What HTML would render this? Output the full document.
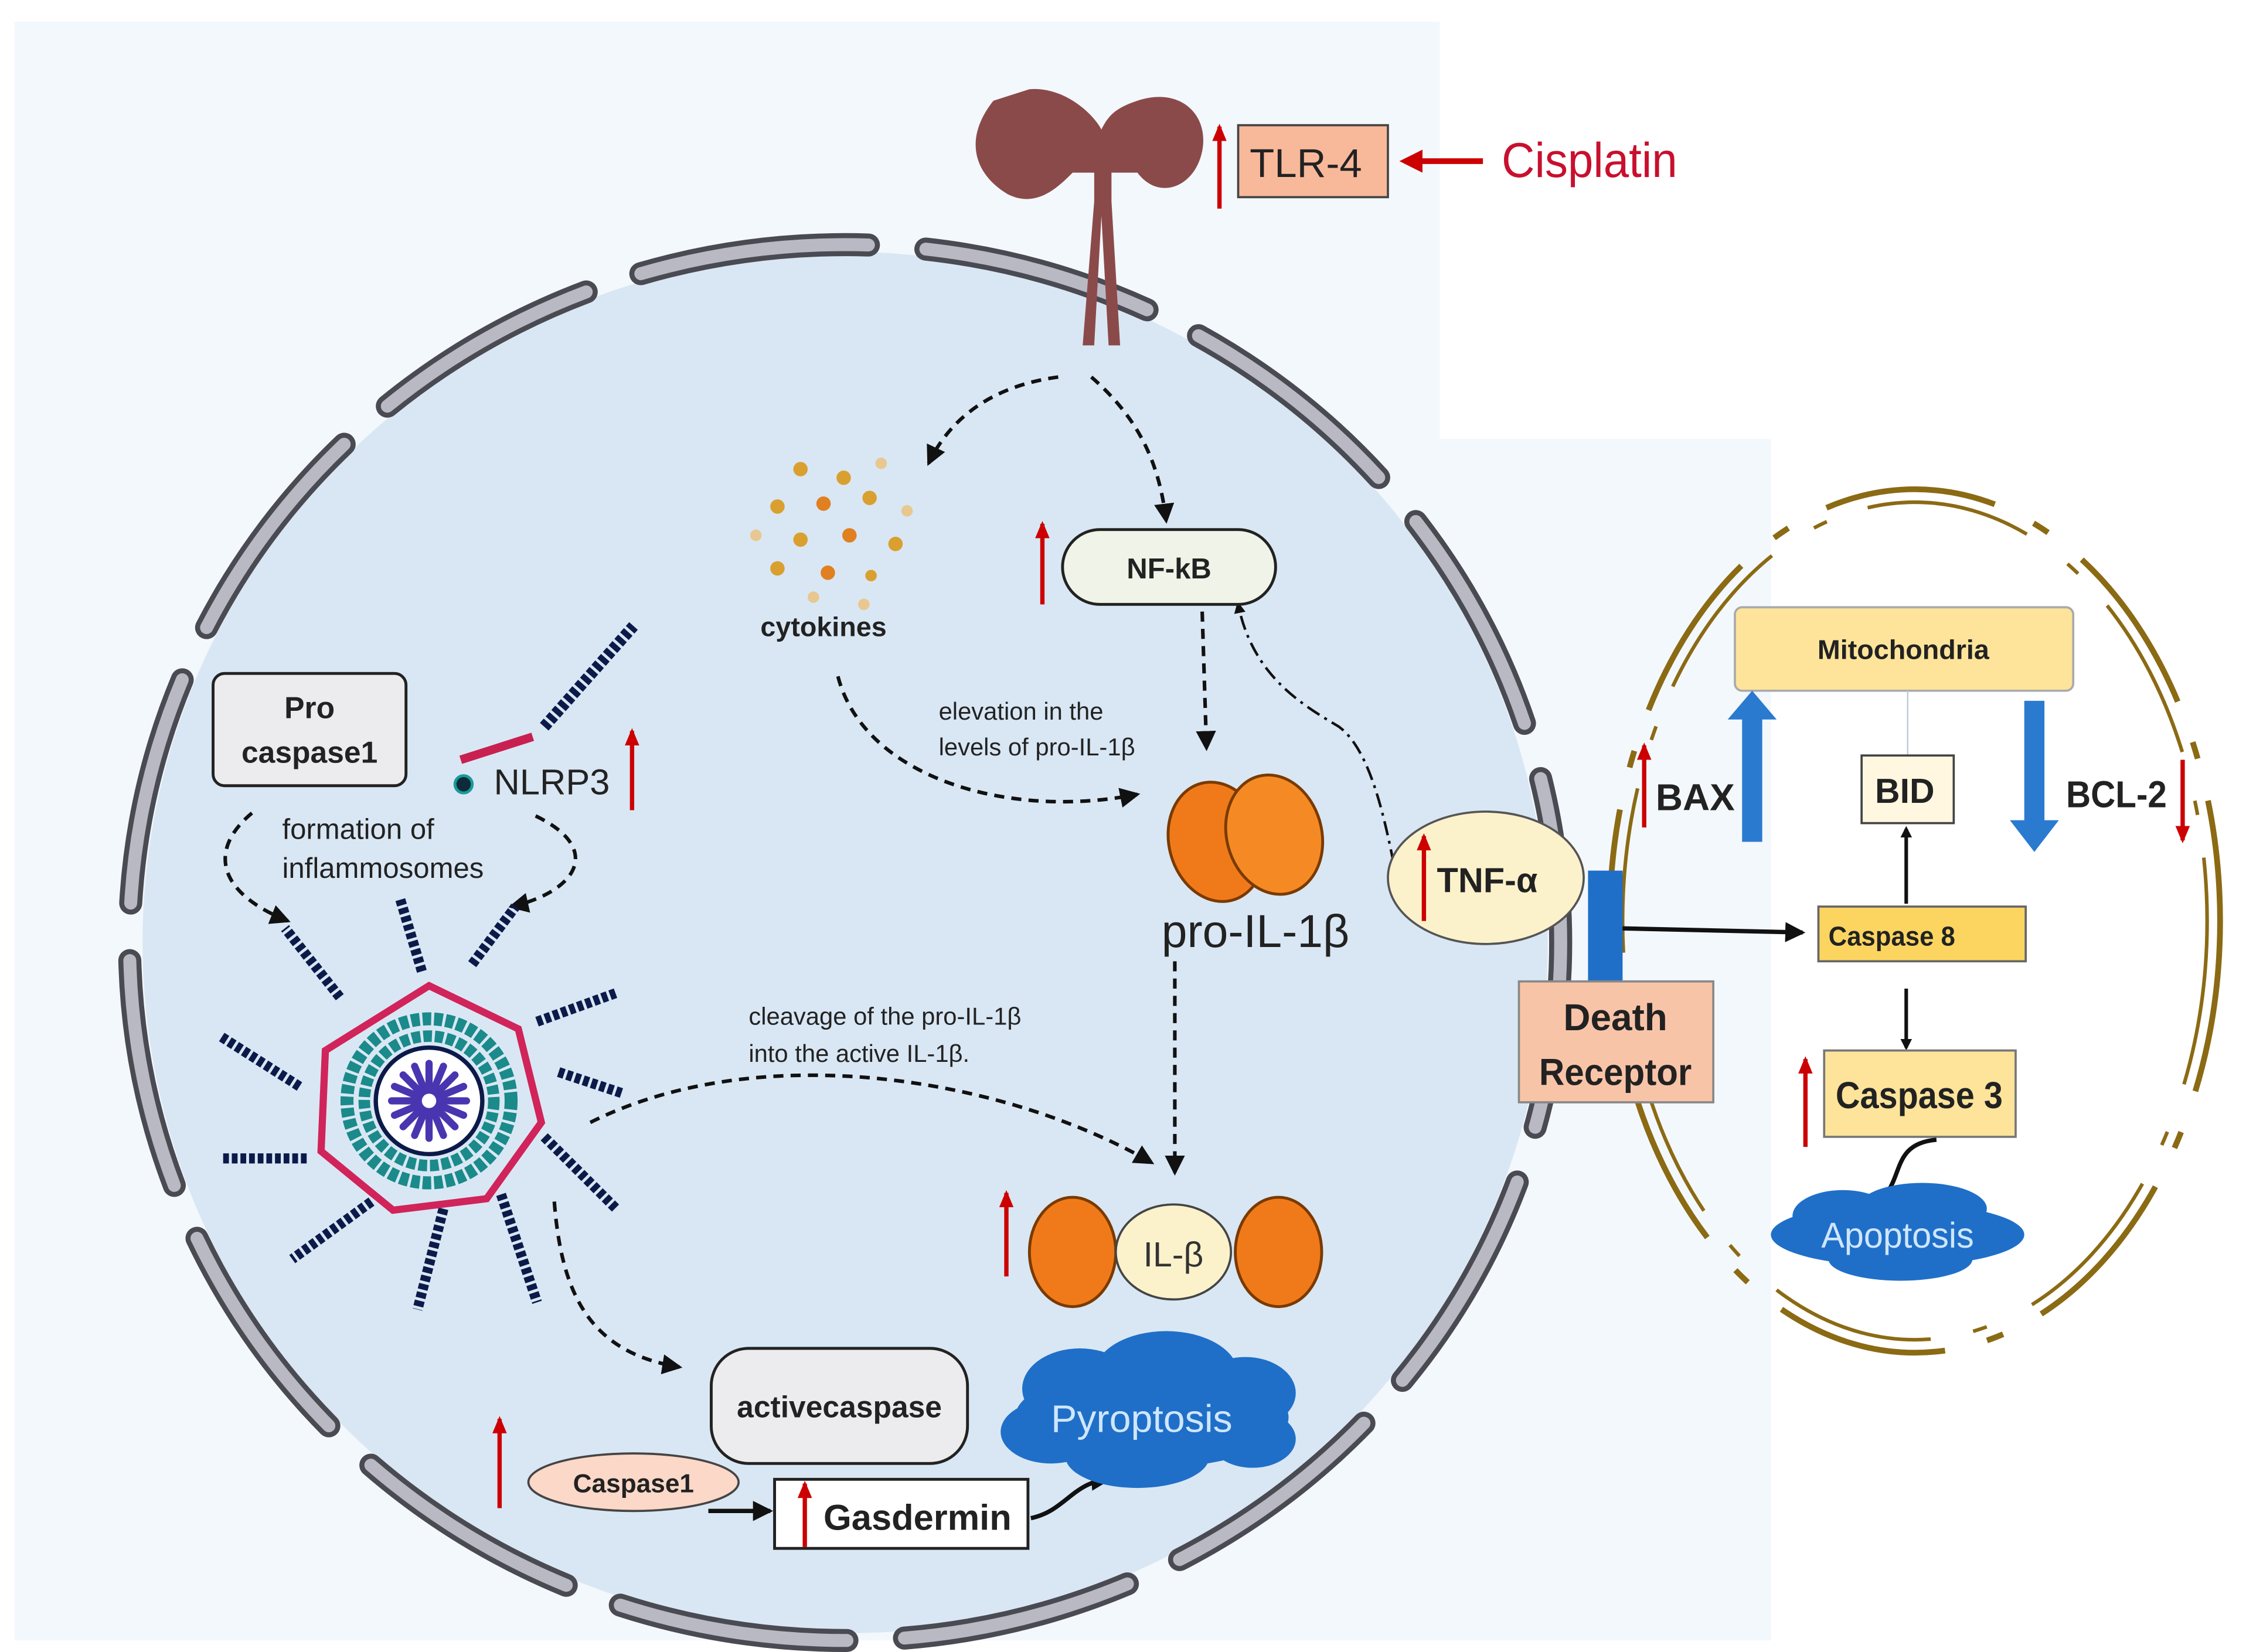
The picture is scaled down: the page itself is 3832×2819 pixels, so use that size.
<!DOCTYPE html>
<html><head><meta charset="utf-8"><style>html,body{margin:0;padding:0;background:#fff}svg{display:block}</style></head>
<body>
<svg xmlns="http://www.w3.org/2000/svg" width="3832" height="2819" viewBox="0 0 1560 1148" preserveAspectRatio="none" font-family="Liberation Sans, sans-serif">
<defs>
<marker id="ah" markerWidth="8" markerHeight="8" refX="6" refY="4" orient="auto" markerUnits="userSpaceOnUse"><path d="M0,0 L8,4 L0,8 Z" fill="#111"/></marker>
<marker id="ahb" markerWidth="14" markerHeight="14" refX="12" refY="7" orient="auto" markerUnits="userSpaceOnUse"><path d="M0,0 L14,7 L0,14 Z" fill="#111"/></marker>
<marker id="ar" markerWidth="12" markerHeight="10" refX="10" refY="5" orient="auto" markerUnits="userSpaceOnUse"><path d="M0,0 L12,5 L0,10 Z" fill="#c00"/></marker>
</defs>
<rect x="10" y="15" width="1220" height="1125" fill="#f3f8fc"/>
<rect x="1000" y="15" width="560" height="290" fill="#fff"/>
<ellipse cx="587" cy="655" rx="488" ry="480" fill="#d9e7f4"/>
<ellipse cx="587" cy="655" rx="497" ry="485" fill="none" stroke="#4a4a52" stroke-width="16" stroke-dasharray="160 40" stroke-linecap="round" stroke-dashoffset="30"/>
<ellipse cx="587" cy="655" rx="497" ry="485" fill="none" stroke="#b9b9c4" stroke-width="9" stroke-dasharray="160 40" stroke-linecap="round" stroke-dashoffset="30"/>
<g fill="#8b4a4a">
<path d="M690,70 C670,95 675,120 700,135 C720,145 735,130 745,120 L760,120 L760,140 L752,240 L760,240 L765,150 L770,240 L778,240 L772,140 L772,120 L790,120 C805,140 830,130 835,105 C840,80 820,60 790,70 C775,75 770,80 765,90 C760,80 740,60 715,62 Z"/>
</g>
<rect x="860" y="87" width="104" height="50" fill="#f8b99a" stroke="#444" stroke-width="1.5"/>
<text x="907" y="123" font-size="28" text-anchor="middle" fill="#222" textLength="78" lengthAdjust="spacingAndGlyphs">TLR-4</text>
<line x1="847" y1="145" x2="847" y2="88" stroke="#c00" stroke-width="3" marker-end="url(#ar)"/>
<line x1="1030" y1="112" x2="978" y2="112" stroke="#c00" stroke-width="4"/>
<path d="M972,112 L988,104 L988,120 Z" fill="#c00"/>
<text x="1043" y="123" font-size="34" fill="#c8102e" textLength="122" lengthAdjust="spacingAndGlyphs">Cisplatin</text>
<g fill="#d9a030">
<circle cx="556" cy="326" r="5"/><circle cx="586" cy="332" r="5"/><circle cx="612" cy="322" r="4" fill="#e8c890"/><circle cx="540" cy="352" r="5"/><circle cx="572" cy="350" r="5" fill="#e08020"/><circle cx="604" cy="346" r="5"/><circle cx="630" cy="355" r="4" fill="#e8c890"/><circle cx="525" cy="372" r="4" fill="#e8c890"/><circle cx="556" cy="375" r="5"/><circle cx="590" cy="372" r="5" fill="#e08020"/><circle cx="622" cy="378" r="5"/><circle cx="540" cy="395" r="5"/><circle cx="575" cy="398" r="5" fill="#e08020"/><circle cx="605" cy="400" r="4"/><circle cx="565" cy="415" r="4" fill="#e8c890"/><circle cx="600" cy="420" r="4" fill="#e8c890"/>
</g>
<text x="572" y="442" font-size="19" text-anchor="middle" fill="#222" font-weight="bold">cytokines</text>
<g fill="none" stroke="#111" stroke-width="2.5" stroke-dasharray="7 5">
<path d="M735,262 C690,268 660,290 645,322" marker-end="url(#ahb)"/>
<path d="M758,262 C790,290 805,320 810,362" marker-end="url(#ahb)"/>
<path d="M835,425 L838,520" marker-end="url(#ahb)"/>
<path d="M582,470 C600,540 700,570 790,552" marker-end="url(#ahb)"/>
<path d="M816,668 L816,815" marker-end="url(#ahb)"/>
<path d="M410,780 C530,720 700,750 800,808" marker-end="url(#ahb)"/>
<path d="M385,835 C390,900 410,940 472,950" marker-end="url(#ahb)"/>
<path d="M175,565 C145,590 150,620 200,640" marker-end="url(#ahb)"/>
<path d="M372,567 C420,590 400,620 355,630" marker-end="url(#ahb)"/>
</g>
<path d="M968,600 C960,560 950,520 930,505 C905,490 870,470 860,420" fill="none" stroke="#111" stroke-width="1.8" stroke-dasharray="10 4 2 4" marker-end="url(#ah)"/>
<rect x="738" y="368" width="148" height="52" rx="26" fill="#f0f4e8" stroke="#222" stroke-width="2"/>
<text x="812" y="402" font-size="20" text-anchor="middle" font-weight="bold" fill="#222">NF-kB</text>
<line x1="724" y1="420" x2="724" y2="364" stroke="#c00" stroke-width="3" marker-end="url(#ar)"/>
<text x="652" y="500" font-size="17" fill="#222">elevation in the</text>
<text x="652" y="525" font-size="17" fill="#222">levels  of pro-IL-1β</text>
<ellipse cx="845" cy="585" rx="33" ry="42" fill="#f07a1a" stroke="#7a3a00" stroke-width="2" transform="rotate(-15 845 585)"/>
<ellipse cx="885" cy="580" rx="33" ry="42" fill="#f58a25" stroke="#7a3a00" stroke-width="2" transform="rotate(-15 885 580)"/>
<text x="872" y="658" font-size="32" text-anchor="middle" fill="#222">pro-IL-1β</text>
<text x="520" y="712" font-size="17" fill="#222">cleavage of the pro-IL-1β</text>
<text x="520" y="738" font-size="17" fill="#222">into the active IL-1β.</text>
<ellipse cx="745" cy="870" rx="30" ry="38" fill="#f07a1a" stroke="#7a3a00" stroke-width="2"/>
<ellipse cx="888" cy="870" rx="30" ry="38" fill="#f07a1a" stroke="#7a3a00" stroke-width="2"/>
<ellipse cx="815" cy="870" rx="40" ry="33" fill="#fbf2cc" stroke="#444" stroke-width="1.5"/>
<text x="815" y="880" font-size="24" text-anchor="middle" fill="#333">IL-β</text>
<line x1="699" y1="887" x2="699" y2="829" stroke="#c00" stroke-width="3" marker-end="url(#ar)"/>
<rect x="494" y="937" width="178" height="80" rx="26" fill="#ececee" stroke="#222" stroke-width="2"/>
<text x="583" y="985" font-size="21" text-anchor="middle" font-weight="bold" fill="#222">activecaspase</text>
<ellipse cx="440" cy="1030" rx="73" ry="20" fill="#fbd8c8" stroke="#444" stroke-width="1.5"/>
<text x="440" y="1037" font-size="18" text-anchor="middle" font-weight="bold" fill="#222">Caspase1</text>
<line x1="347" y1="1048" x2="347" y2="986" stroke="#c00" stroke-width="3" marker-end="url(#ar)"/>
<line x1="492" y1="1050" x2="535" y2="1050" stroke="#111" stroke-width="3" marker-end="url(#ahb)"/>
<rect x="538" y="1028" width="176" height="48" fill="#fff" stroke="#222" stroke-width="2"/>
<text x="572" y="1063" font-size="25" font-weight="bold" fill="#222">Gasdermin</text>
<line x1="559" y1="1075" x2="559" y2="1031" stroke="#c00" stroke-width="3" marker-end="url(#ar)"/>
<path d="M716,1055 C740,1050 745,1030 770,1028" fill="none" stroke="#111" stroke-width="3" marker-end="url(#ahb)"/>
<g fill="#1f6fc8">
<ellipse cx="800" cy="985" rx="95" ry="35"/><ellipse cx="750" cy="965" rx="40" ry="28"/><ellipse cx="810" cy="955" rx="50" ry="30"/><ellipse cx="865" cy="968" rx="35" ry="25"/><ellipse cx="730" cy="995" rx="35" ry="22"/><ellipse cx="790" cy="1012" rx="50" ry="22"/><ellipse cx="870" cy="1000" rx="30" ry="20"/>
</g>
<text x="793" y="995" font-size="27" text-anchor="middle" fill="#cfe6ff">Pyroptosis</text>
<rect x="148" y="468" width="134" height="78" rx="8" fill="#ececee" stroke="#222" stroke-width="2"/>
<text x="215" y="499" font-size="21" text-anchor="middle" font-weight="bold" fill="#222">Pro</text>
<text x="215" y="530" font-size="21" text-anchor="middle" font-weight="bold" fill="#222">caspase1</text>
<text x="196" y="583" font-size="20" fill="#222">formation of</text>
<text x="196" y="610" font-size="20" fill="#222">inflammosomes</text>
<line x1="320" y1="528" x2="370" y2="512" stroke="#c82050" stroke-width="6"/>
<line x1="378" y1="505" x2="440" y2="435" stroke="#0c1a4a" stroke-width="8" stroke-dasharray="4 2"/>
<circle cx="322" cy="545" r="6" fill="#0c2a3a" stroke="#1a9a9a" stroke-width="2"/>
<text x="343" y="552" font-size="25" fill="#222">NLRP3</text>
<line x1="439" y1="563" x2="439" y2="508" stroke="#c00" stroke-width="3" marker-end="url(#ar)"/>
<g transform="translate(298,765)">
<g stroke="#0c1a4a" stroke-width="7" stroke-dasharray="4 2" fill="none">
<line x1="-62" y1="-72" x2="-100" y2="-120"/>
<line x1="-5" y1="-90" x2="-20" y2="-140"/>
<line x1="30" y1="-95" x2="60" y2="-135"/>
<line x1="75" y1="-55" x2="130" y2="-75"/>
<line x1="90" y1="-20" x2="135" y2="-5"/>
<line x1="80" y1="25" x2="130" y2="75"/>
<line x1="50" y1="65" x2="75" y2="140"/>
<line x1="10" y1="75" x2="-8" y2="145"/>
<line x1="-40" y1="70" x2="-95" y2="110"/>
<line x1="-85" y1="40" x2="-145" y2="40"/>
<line x1="-90" y1="-10" x2="-145" y2="-45"/>
</g>
<polygon points="0,-80 62,-50 78,15 40,68 -25,76 -75,35 -72,-35" fill="none" stroke="#d0245a" stroke-width="5" stroke-linejoin="miter"/>
<circle r="57" fill="none" stroke="#1a8a8a" stroke-width="9" stroke-dasharray="6 2"/>
<circle r="45" fill="none" stroke="#1a8a8a" stroke-width="8" stroke-dasharray="6 2"/>
<circle r="37" fill="#fff" stroke="#0c1a4a" stroke-width="3"/>
<g stroke="#4a35b0" stroke-width="5" stroke-linecap="round">
<line x1="-26" y1="0" x2="26" y2="0"/><line x1="0" y1="-26" x2="0" y2="26"/><line x1="-18" y1="-18" x2="18" y2="18"/><line x1="-18" y1="18" x2="18" y2="-18"/>
<line x1="-24" y1="-10" x2="24" y2="10"/><line x1="-24" y1="10" x2="24" y2="-10"/><line x1="-10" y1="-24" x2="10" y2="24"/><line x1="10" y1="-24" x2="-10" y2="24"/>
</g>
<circle r="5" fill="#fff"/>
</g>
<ellipse cx="1330" cy="640" rx="212" ry="300" fill="none" stroke="#8b6a14" stroke-width="4" stroke-dasharray="120 30 12 30"/>
<ellipse cx="1330" cy="640" rx="203" ry="291" fill="none" stroke="#8b6a14" stroke-width="2.5" stroke-dasharray="115 35 10 30"/>
<rect x="1205" y="422" width="235" height="58" rx="5" fill="#fde49a" stroke="#aaa" stroke-width="1.5"/>
<text x="1322" y="458" font-size="19" text-anchor="middle" font-weight="bold" fill="#222">Mitochondria</text>
<line x1="1325" y1="480" x2="1325" y2="525" stroke="#bcd" stroke-width="1"/>
<rect x="1293" y="525" width="64" height="47" fill="#fff7e0" stroke="#444" stroke-width="1.5"/>
<text x="1323" y="558" font-size="24" text-anchor="middle" font-weight="bold" fill="#222">BID</text>
<line x1="1324" y1="628" x2="1324" y2="576" stroke="#111" stroke-width="2.5" marker-end="url(#ah)"/>
<path d="M1210,585 L1210,500 L1200,500 L1217,480 L1234,500 L1224,500 L1224,585 Z" fill="#2a7ad0"/>
<path d="M1406,487 L1420,487 L1420,570 L1430,570 L1413,592 L1396,570 L1406,570 Z" fill="#2a7ad0"/>
<text x="1150" y="563" font-size="26" font-weight="bold" fill="#222">BAX</text>
<line x1="1142" y1="575" x2="1142" y2="518" stroke="#c00" stroke-width="3" marker-end="url(#ar)"/>
<text x="1435" y="561" font-size="26" font-weight="bold" fill="#222" textLength="70" lengthAdjust="spacingAndGlyphs">BCL-2</text>
<line x1="1516" y1="528" x2="1516" y2="584" stroke="#c00" stroke-width="3" marker-end="url(#ar)"/>
<rect x="1263" y="630" width="144" height="38" fill="#fcd560" stroke="#666" stroke-width="1.5"/>
<text x="1270" y="657" font-size="19" font-weight="bold" fill="#222" textLength="88" lengthAdjust="spacingAndGlyphs">Caspase 8</text>
<line x1="1120" y1="645" x2="1252" y2="648" stroke="#111" stroke-width="3" marker-end="url(#ahb)"/>
<line x1="1324" y1="687" x2="1324" y2="728" stroke="#111" stroke-width="2.5" marker-end="url(#ah)"/>
<rect x="1267" y="730" width="133" height="60" fill="#fde49a" stroke="#777" stroke-width="1.5"/>
<text x="1333" y="770" font-size="26" text-anchor="middle" font-weight="bold" fill="#222" textLength="116" lengthAdjust="spacingAndGlyphs">Caspase 3</text>
<line x1="1254" y1="797" x2="1254" y2="736" stroke="#c00" stroke-width="3" marker-end="url(#ar)"/>
<path d="M1345,792 C1310,795 1325,825 1300,838" fill="none" stroke="#111" stroke-width="3" marker-end="url(#ahb)"/>
<g fill="#1f6fc8">
<ellipse cx="1318" cy="858" rx="88" ry="22"/><ellipse cx="1280" cy="845" rx="35" ry="18"/><ellipse cx="1335" cy="840" rx="45" ry="18"/><ellipse cx="1320" cy="875" rx="50" ry="15"/>
</g>
<text x="1318" y="867" font-size="25" text-anchor="middle" fill="#cfe6ff" textLength="106" lengthAdjust="spacingAndGlyphs">Apoptosis</text>
<ellipse cx="1032" cy="610" rx="68" ry="46" fill="#fbf2cc" stroke="#555" stroke-width="1.5"/>
<text x="998" y="620" font-size="24" font-weight="bold" fill="#222" textLength="70" lengthAdjust="spacingAndGlyphs">TNF-α</text>
<line x1="989" y1="640" x2="989" y2="581" stroke="#c00" stroke-width="3" marker-end="url(#ar)"/>
<rect x="1103" y="605" width="24" height="80" fill="#1f6fc8"/>
<rect x="1055" y="682" width="135" height="84" fill="#f8c4a8" stroke="#888" stroke-width="1.5"/>
<text x="1122" y="716" font-size="26" text-anchor="middle" font-weight="bold" fill="#222">Death</text>
<text x="1122" y="754" font-size="26" text-anchor="middle" font-weight="bold" fill="#222" textLength="106" lengthAdjust="spacingAndGlyphs">Receptor</text>
</svg>
</body></html>
